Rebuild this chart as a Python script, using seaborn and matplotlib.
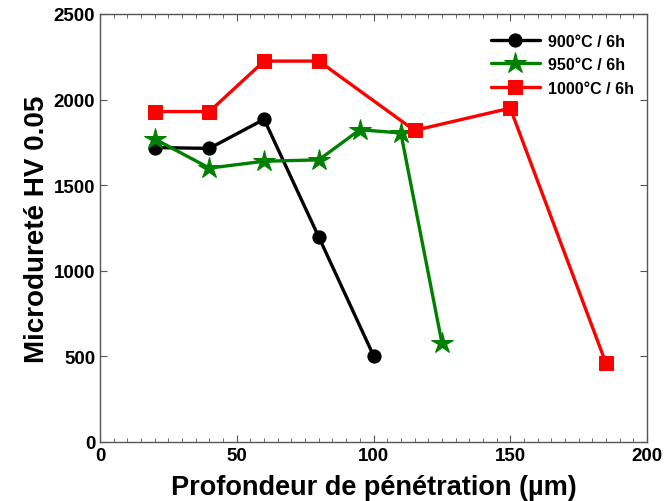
import matplotlib
matplotlib.use("Agg")
import matplotlib.pyplot as plt
import seaborn as sns
import pandas as pd
from matplotlib.ticker import MultipleLocator

sns.set_style("ticks")
plt.rcParams['font.family'] = ['Liberation Sans', 'DejaVu Sans']
plt.rcParams['text.color'] = 'black'
plt.rcParams['axes.labelcolor'] = 'black'

x_900 = [20, 40, 60, 80, 100]
y_900 = [1720, 1715, 1885, 1197, 505]
x_950 = [20, 40, 60, 80, 95, 110, 125]
y_950 = [1770, 1600, 1640, 1648, 1824, 1805, 580]
x_1000 = [20, 40, 60, 80, 115, 150, 185]
y_1000 = [1930, 1930, 2225, 2225, 1820, 1950, 460]
labels = ["900°C / 6h", "950°C / 6h", "1000°C / 6h"]

fig = plt.figure(figsize=(6.64, 5.02), dpi=100)
ax = fig.add_axes([100/664, 1-443/502, 547/664, 428/502])

series = [
    (x_900, y_900, labels[0], "black", "o", 9.5),
    (x_950, y_950, labels[1], "#008000", "*", 16),
    (x_1000, y_1000, labels[2], "#ff0000", "s", 9.5),
]
for xs, ys, lab, col, mk, ms in series:
    df = pd.DataFrame({"x": xs, "y": ys})
    sns.lineplot(data=df, x="x", y="y", ax=ax, color=col, marker=mk,
                 markersize=ms, markeredgecolor=col, linewidth=2.4,
                 label=lab, sort=False)

ax.set_xlim(0, 200)
ax.set_ylim(0, 2500)
ax.xaxis.set_major_locator(MultipleLocator(50))
ax.xaxis.set_minor_locator(MultipleLocator(5))
ax.yaxis.set_major_locator(MultipleLocator(500))
ax.tick_params(which="both", direction="in", top=True, right=True,
               labelsize=13.5, colors="#555555", labelcolor="black")
ax.tick_params(which="major", length=5)
ax.tick_params(which="minor", length=3)
for t in ax.get_xticklabels() + ax.get_yticklabels():
    t.set_fontweight("bold")
for s in ax.spines.values():
    s.set_color("#555555")
    s.set_linewidth(1.0)

ax.set_xlabel("Profondeur de pénétration (µm)", fontsize=19.5, fontweight="bold", labelpad=7)
ax.set_ylabel("Microdureté HV 0.05", fontsize=20, fontweight="bold", labelpad=2.5)

leg = ax.legend(loc="upper right", frameon=False, fontsize=11.5, handlelength=3.06,
                borderaxespad=0.88, labelspacing=0.53, handletextpad=0.5,
                bbox_to_anchor=(1.013, 1.002))
for t in leg.get_texts():
    t.set_fontweight("bold")

fig.savefig("out.png", dpi=100)
